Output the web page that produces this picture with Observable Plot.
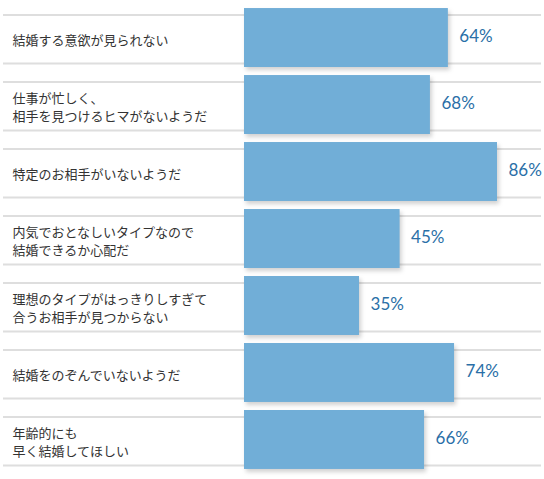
<!DOCTYPE html>
<html>
<head>
<meta charset="utf-8">
<script src="https://cdn.jsdelivr.net/npm/d3@7"></script>
<script src="https://cdn.jsdelivr.net/npm/@observablehq/plot@0.6"></script>
<style>
  body { margin: 0; background: #fff; }
</style>
</head>
<body>
<div id="chart"></div>
<script>
// 理由（上から順に）
const reasons = [
  "結婚する意欲が見られない",
  "仕事が忙しく、\n相手を見つけるヒマがないようだ",
  "特定のお相手がいないようだ",
  "内気でおとなしいタイプなので\n結婚できるか心配だ",
  "理想のタイプがはっきりしすぎて\n合うお相手が見つからない",
  "結婚をのぞんでいないようだ",
  "年齢的にも\n早く結婚してほしい"
]
// 表示されている割合
const percents = [64, 68, 86, 45, 35, 74, 66]
// 描かれているバーの長さ（86%のバーを基準に画像から読んだ値）
const barLengths = [69.3, 63.2, 86, 52.9, 39.1, 71.4, 61.2]

const data = reasons.map((r, i) => ({reason: r, pct: percents[i], len: barLengths[i]}))

const chart = Plot.plot({
  width: 544,
  height: 479,
  marginLeft: 244,
  marginRight: 47,
  marginTop: 0,
  marginBottom: 2,
  style: {fontFamily: "'Noto Sans CJK JP', sans-serif", background: "#fff"},
  x: {domain: [0, 86], axis: null},
  y: {domain: reasons, axis: null, padding: 0.12, round: false},
  marks: [
    // 行ごとの上下の区切り線
    Plot.ruleY(reasons, {y: d => d, dy: -23, stroke: "#dedede", strokeWidth: 2, insetLeft: -241, insetRight: -44}),
    Plot.ruleY(reasons, {y: d => d, dy: 25.5, stroke: "#dedede", strokeWidth: 2, insetLeft: -241, insetRight: -44}),
    Plot.barX(data, {x: 'len', y: 'reason', fill: '#71aed7'}),
    Plot.text(data, {
      y: 'reason',
      text: 'reason',
      frameAnchor: 'left',
      textAnchor: 'start',
      dx: -232,
      dy: 1,
      fontSize: 13,
      lineHeight: 1.38,
      fill: '#333'
    }),
    Plot.text(data, {
      x: 'len',
      y: 'reason',
      text: d => d.pct + '%',
      textAnchor: 'start',
      dx: 11,
      dy: -1,
      fontSize: 17,
      fontFamily: 'Lato, sans-serif',
      fill: '#2a6fa7'
    })
  ]
})

d3.select(chart).selectAll('g[aria-label=bar] rect')
  .style('filter', 'drop-shadow(2px 3px 2px rgba(0,0,0,0.18))')

d3.select('#chart').append(() => chart)
</script>
</body>
</html>
